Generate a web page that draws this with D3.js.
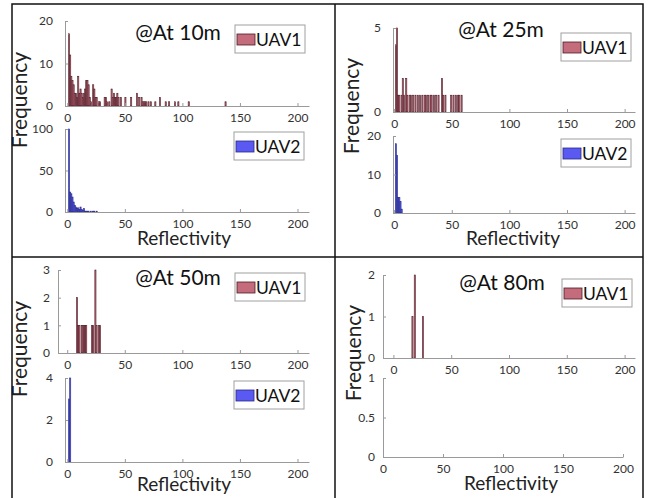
<!DOCTYPE html>
<html>
<head>
<meta charset="utf-8">
<script src="https://cdn.jsdelivr.net/npm/d3@7"></script>
<style>
  body { margin: 0; background: #fff; }
  text { font-family: Lato, "DejaVu Sans", sans-serif; }
</style>
</head>
<body>
<script>
// histogram bins (left edge of each 1-unit bin) and their counts
const uav1At10Bins = [1,2,3,4,5,6,7,8,9,10,11,12,13,14,15,16,17,18,19,20,22,23,24,25,27,28,32,33,34,36,38,39,40,41,42,43,44,46,50,55,60,62,64,65,66,67,68,70,72,76,80,85,88,93,96,105,137];
const uav1At10Counts = [17,12,7,6,5,3,3,2,7,3,4,3,2,3,4,6,6,5,2,1,5,4,2,2,1,1,2,2,1,1,4,2,3,2,2,3,2,2,2,2,3,2,2,1,1,1,1,1,1,1,2,1,1,1,1,1,1];
const uav2At10Bins = [1,2,3,4,5,6,7,8,9,10,11,12,13,14,15,16,17,18,20,22,23,25];
const uav2At10Counts = [100,24,22,18,12,8,6,4,5,3,6,3,2,4,1,1,1,1,1,1,1,1];

const uav1At25Bins = [1,2,3,4,6,7,8,10,11,13,14,16,18,20,22,24,26,27,29,31,32,34,36,38,41,42,44,49,51,53,55,56,58];
const uav1At25Counts = [4,5,1,1,1,2,1,2,1,1,1,1,1,1,1,1,1,1,1,1,1,1,1,1,2,1,1,1,1,1,1,1,1];
const uav2At25Bins = [1,2,3,4,5,6];
const uav2At25Counts = [18,15,4,4,3,1];

const uav1At50Bins = [8,9,10,12,13,14,15,16,21,22,24,25,27,28];
const uav1At50Counts = [2,1,1,1,1,1,1,1,1,1,3,1,1,1];
const uav2At50Bins = [1,2];
const uav2At50Counts = [3,4];

const uav1At80Bins = [16,18,25];
const uav1At80Counts = [1,2,1];
const uav2At80Bins = [];
const uav2At80Counts = [];

const xTicks = [0, 50, 100, 150, 200];
const titles = ["@At 10m", "@At 25m", "@At 50m", "@At 80m"];

const W = 649, H = 498;
const svg = d3.select("body").append("svg").attr("width", W).attr("height", H);

const uavStyle = {
  UAV1: { fill: "#c46c7b", stroke: "#4e1d27" },
  UAV2: { fill: "#5a5af2", stroke: "#262a86" }
};

// one histogram axes
const hist = (c) => {
  const xScale = d3.scaleLinear().domain(c.xd).range([c.x0, c.x1]);
  const yScale = d3.scaleLinear().domain(c.yd).range([c.y0, c.y1]);
  const st = uavStyle[c.name];
  const g = svg.append("g");

  const data = c.bins.map((b, i) => ({ b: b, n: c.counts[i] }));
  g.selectAll("rect.bar")
    .data(data)
    .enter()
    .append("rect")
    .attr("class", "bar")
    .attr("x", (d) => xScale(d.b))
    .attr("width", (d) => xScale(d.b + 1) - xScale(d.b))
    .attr("y", (d) => yScale(d.n))
    .attr("height", (d) => yScale(0) - yScale(d.n))
    .attr("fill", st.fill)
    .attr("stroke", st.stroke)
    .attr("stroke-width", 0.6);

  const xAxis = d3.axisBottom(xScale).tickValues(xTicks)
    .tickSizeInner(-3).tickSizeOuter(0).tickPadding(7).tickFormat(d3.format("~g"));
  const xg = g.append("g").attr("transform", `translate(0,${c.y0})`).call(xAxis);
  const yAxis = d3.axisLeft(yScale).tickValues(c.yt)
    .tickSizeInner(-3).tickSizeOuter(0).tickPadding(c.yp || 12).tickFormat(d3.format("~g"));
  const yg = g.append("g").attr("transform", `translate(${c.x0},0)`).call(yAxis);
  [xg, yg].forEach((a) => {
    a.select(".domain").attr("stroke", "#9a9a9a");
    a.selectAll(".tick line").attr("stroke", "#9a9a9a");
    a.selectAll(".tick text").attr("fill", "#333").style("font-size", "12px");
  });

  if (c.legend) {
    const [lx, ly] = c.legend;
    const lg = svg.append("g").attr("transform", `translate(${lx},${ly})`);
    lg.append("rect").attr("width", 70).attr("height", 28)
      .attr("fill", "#fff").attr("stroke", "#a0a0a0").attr("stroke-width", 1);
    lg.append("rect").attr("x", 2).attr("y", 9).attr("width", 18).attr("height", 11)
      .attr("fill", st.fill).attr("stroke", st.stroke).attr("stroke-width", 0.8);
    lg.append("text").attr("x", 21).attr("y", 20.5)
      .style("font-size", "17.5px").attr("fill", "#111").text(c.name);
  }
};

const panels = [
  { title: [178, 40], ylab: [27, 100], xlab: [184, 245],
    plots: [
      { name: "UAV1", bins: uav1At10Bins, counts: uav1At10Counts, xd: [-2, 210], x0: 65, x1: 309, yd: [0, 20], y0: 106, y1: 21, yt: [0, 10, 20], legend: [235, 25] },
      { name: "UAV2", bins: uav2At10Bins, counts: uav2At10Counts, xd: [-2, 210], x0: 65, x1: 309, yd: [0, 100], y0: 212, y1: 129, yt: [0, 50, 100], legend: [234, 132] }
    ] },
  { title: [501, 37], ylab: [359, 106], xlab: [513, 245],
    plots: [
      { name: "UAV1", bins: uav1At25Bins, counts: uav1At25Counts, xd: [-1, 209], x0: 393, x1: 635, yd: [0, 5], y0: 112, y1: 28, yt: [0, 5], legend: [561, 33] },
      { name: "UAV2", bins: uav2At25Bins, counts: uav2At25Counts, xd: [-1, 209], x0: 393, x1: 635, yd: [0, 20], y0: 213, y1: 136, yt: [0, 10, 20], legend: [561, 139] }
    ] },
  { title: [178, 285], ylab: [27, 349], xlab: [184, 491],
    plots: [
      { name: "UAV1", bins: uav1At50Bins, counts: uav1At50Counts, xd: [-8, 210], x0: 58, x1: 309, yd: [0, 3], y0: 353, y1: 270, yt: [0, 1, 2, 3], legend: [235, 273], yp: 8 },
      { name: "UAV2", bins: uav2At50Bins, counts: uav2At50Counts, xd: [-2, 210], x0: 65, x1: 309, yd: [0, 4], y0: 462, y1: 378, yt: [0, 2, 4], legend: [234, 381] }
    ] },
  { title: [502, 290], ylab: [361, 353], xlab: [511, 490],
    plots: [
      { name: "UAV1", bins: uav1At80Bins, counts: uav1At80Counts, xd: [-9, 209], x0: 383, x1: 635, yd: [0, 2], y0: 358, y1: 275, yt: [0, 1, 2], legend: [562, 279], yp: 8 },
      { name: "UAV2", bins: uav2At80Bins, counts: uav2At80Counts, xd: [0, 200], x0: 383, x1: 623, yd: [0, 1], y0: 457, y1: 378, yt: [0, 0.5, 1], yp: 8 }
    ] }
];

panels.forEach((p, i) => {
  p.plots.forEach(hist);
  svg.append("text").attr("x", p.title[0]).attr("y", p.title[1])
    .attr("text-anchor", "middle").style("font-size", "21px").attr("fill", "#111")
    .text(titles[i]);
  svg.append("text")
    .attr("transform", `translate(${p.ylab[0]},${p.ylab[1]}) rotate(-90)`)
    .attr("text-anchor", "middle").style("font-size", "21px").attr("fill", "#222")
    .text("Frequency");
  svg.append("text").attr("x", p.xlab[0]).attr("y", p.xlab[1])
    .attr("text-anchor", "middle").style("font-size", "19px").attr("fill", "#222")
    .text("Reflectivity");
});

// figure frame
const frame = svg.append("g").attr("fill", "none").attr("stroke", "#111").attr("stroke-width", 1.5);
frame.append("rect").attr("x", 12).attr("y", 4).attr("width", 631).attr("height", 500);
frame.append("line").attr("x1", 335).attr("x2", 335).attr("y1", 4).attr("y2", 498);
frame.append("line").attr("x1", 12).attr("x2", 643).attr("y1", 257).attr("y2", 257);
</script>
</body>
</html>
